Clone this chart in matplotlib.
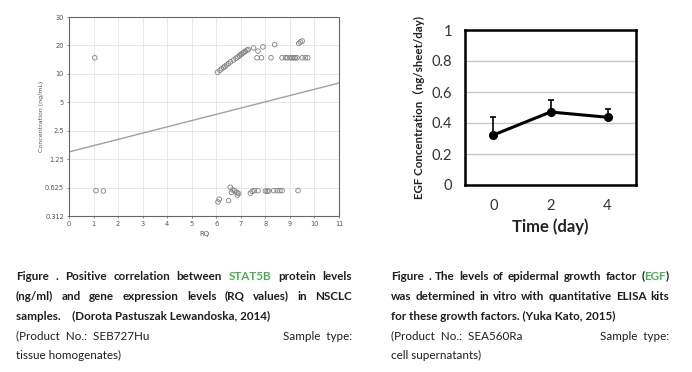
"""Recreate the two-panel product figure: STAT5B scatter and EGF time course with captions."""

import re

import matplotlib.pyplot as plt
import numpy as np


# --- left panel: STAT5B concentration vs RQ ---
RQ_VALUES = [
    1.05, 1.1, 1.4,
    6.05, 6.15, 6.22, 6.3, 6.35, 6.42, 6.5, 6.58, 6.7, 6.8, 6.88, 6.95, 7.0,
    7.05, 7.12, 7.18, 7.25, 7.3,
    7.52, 7.7, 7.9, 8.38, 9.36, 9.43, 9.5,
    7.66, 7.84, 8.23, 8.68, 8.82, 8.9, 9.02, 9.09, 9.16, 9.22, 9.29, 9.5, 9.63, 9.73,
    6.57, 6.67, 6.62, 6.75, 6.84, 6.91, 6.86, 7.39, 7.46, 7.55, 7.7, 8.0, 8.07,
    8.13, 8.34, 8.48, 8.59, 8.68, 9.33,
    6.12, 6.07, 6.5,
]
CONC_VALUES = [
    14.8, 0.58, 0.575,
    10.4, 10.9, 11.3, 11.7, 12.0, 12.4, 12.9, 13.4, 14.0, 14.6, 15.1, 15.6, 16.0,
    16.4, 16.9, 17.3, 17.8, 18.1,
    18.8, 17.4, 19.3, 20.4, 21.0, 21.8, 22.3,
    14.8, 14.8, 14.8, 14.8, 14.8, 14.8, 14.8, 14.8, 14.8, 14.8, 14.8, 14.8, 14.8, 14.8,
    0.63, 0.59, 0.555, 0.58, 0.555, 0.54, 0.52, 0.545, 0.57, 0.58, 0.58, 0.575, 0.57,
    0.575, 0.58, 0.58, 0.58, 0.58, 0.58,
    0.47, 0.44, 0.455,
]
FIT_RQ = [0, 11]
FIT_CONC = [1.49, 8.0]
RQ_TICKS = list(range(0, 12))
CONC_TICKS = [0.3125, 0.625, 1.25, 2.5, 5, 10, 20, 40]
CONC_TICK_LABELS = ["0.312", "0.625", "1.25", "2.5", "5", "10", "20", "30"]

# --- right panel: EGF concentration over time ---
DAYS = [0, 2, 4]
EGF_MEAN = [0.323, 0.471, 0.437]
EGF_ERR = [0.114, 0.075, 0.053]
EGF_TICKS = [0, 0.2, 0.4, 0.6, 0.8, 1]
EGF_TICK_LABELS = ["0", "0.2", "0.4", "0.6", "0.8", "1"]

# --- captions; [word] marks green text ---
LEFT_CAPTION = [
    ("Figure . Positive correlation between [STAT5B] protein levels", "justify", "bold"),
    ("(ng/ml) and gene expression levels (RQ values) in NSCLC", "justify", "bold"),
    ("samples.    (Dorota Pastuszak Lewandoska, 2014)", "left", "bold"),
    ("(Product  No.:  SEB727Hu|Sample  type:", "split", "normal"),
    ("tissue homogenates)", "left", "normal"),
]
RIGHT_CAPTION = [
    ("Figure . The levels of epidermal growth factor ([EGF])", "justify", "bold"),
    ("was determined in vitro with quantitative ELISA kits", "justify", "bold"),
    ("for these growth factors. (Yuka Kato, 2015)", "left", "bold"),
    ("(Product  No.:  SEA560Ra|Sample  type:", "split", "normal"),
    ("cell supernatants)", "left", "normal"),
]

W, H = 692, 372
GREEN = "#4caf50"
TEXT_COLOR = "#1e1e1e"
CAPTION_FONT = "Lato"
CAPTION_SIZE = 8.4
LINE_Y = [276, 296, 316, 336, 355]


def px(x, y):
    """Convert pixel coords (top-left origin) to figure fraction."""
    return x / W, 1 - y / H


def text_width(fig, renderer, s, weight):
    t = fig.text(0, 0, s, fontsize=CAPTION_SIZE, family=CAPTION_FONT, weight=weight)
    w = t.get_window_extent(renderer).width / fig.bbox.width
    t.remove()
    return w


def draw_word(fig, renderer, x, y, word, weight):
    """Draw one word (may contain [green] parts)."""
    parts = [p for p in re.split(r"(\[[^\]]+\])", word) if p]
    for part in parts:
        color = TEXT_COLOR
        if part.startswith("["):
            part = part[1:-1]
            color = GREEN
        t = fig.text(x, y, part, fontsize=CAPTION_SIZE, family=CAPTION_FONT,
                     weight=weight, color=color, va="center", ha="left")
        x += t.get_window_extent(renderer).width / fig.bbox.width


def draw_caption(fig, lines, x0_px, x1_px):
    renderer = fig.canvas.get_renderer()
    x0, _ = px(x0_px, 0)
    x1, _ = px(x1_px, 0)
    for (line, mode, weight), y_px in zip(lines, LINE_Y):
        _, y = px(0, y_px)
        if mode == "justify":
            words = line.split()
            widths = [text_width(fig, renderer, w.replace("[", "").replace("]", ""), weight)
                      for w in words]
            gap = (x1 - x0 - sum(widths)) / (len(words) - 1)
            x = x0
            for word, wd in zip(words, widths):
                draw_word(fig, renderer, x, y, word, weight)
                x += wd + gap
        elif mode == "split":
            left, right = line.split("|")
            fig.text(x0, y, left, fontsize=CAPTION_SIZE, family=CAPTION_FONT,
                     weight=weight, color=TEXT_COLOR, va="center", ha="left")
            fig.text(x1, y, right, fontsize=CAPTION_SIZE, family=CAPTION_FONT,
                     weight=weight, color=TEXT_COLOR, va="center", ha="right")
        else:
            fig.text(x0, y, line, fontsize=CAPTION_SIZE, family=CAPTION_FONT,
                     weight=weight, color=TEXT_COLOR, va="center", ha="left")


def plot_scatter(fig):
    ax = fig.add_axes([69 / W, 1 - 216 / H, 270 / W, 199 / H])
    ax.set_yscale("log", base=2)
    ax.scatter(RQ_VALUES, CONC_VALUES, s=11, facecolors="none", edgecolors="#808080",
               linewidths=0.6, zorder=3)
    ax.plot(FIT_RQ, FIT_CONC, color="#a0a0a0", lw=1.0, zorder=2)
    ax.set_xlim(0, 11)
    ax.set_ylim(CONC_TICKS[0], CONC_TICKS[-1])
    ax.set_xticks(RQ_TICKS)
    ax.set_yticks(CONC_TICKS)
    ax.set_yticklabels(CONC_TICK_LABELS)
    ax.yaxis.set_minor_locator(plt.NullLocator())
    ax.tick_params(labelsize=4.8, length=1.5, width=0.5, pad=2, colors="#555555")
    ax.grid(True, color="#e4e4e4", lw=0.6)
    ax.set_axisbelow(True)
    for spine in ax.spines.values():
        spine.set_color("#666666")
        spine.set_linewidth(0.8)
        spine.set_linestyle((0, (2, 1)))
    ax.set_xlabel("RQ", fontsize=5, color="#555555", labelpad=3)
    ax.set_ylabel("Concentration (ng/mL)", fontsize=4.5, color="#555555", labelpad=1)


def plot_egf(fig):
    ax = fig.add_axes([465 / W, 1 - 185 / H, 171 / W, 155 / H])
    ax.errorbar(DAYS, EGF_MEAN, yerr=[np.zeros(len(EGF_ERR)), EGF_ERR], color="black",
                lw=2.2, marker="o", markersize=5.5, capsize=2.5, elinewidth=1.2,
                capthick=1.2, zorder=3)
    ax.set_xlim(-1, 5)
    ax.set_ylim(0, 1)
    ax.set_xticks(DAYS)
    ax.set_yticks(EGF_TICKS)
    ax.set_yticklabels(EGF_TICK_LABELS)
    ax.tick_params(length=0, labelsize=10.5, pad=9, colors="#333333")
    ax.tick_params(axis="x", pad=10)
    for lab in ax.get_xticklabels() + ax.get_yticklabels():
        lab.set_family("Lato")
    ax.grid(axis="y", color="#c8c8c8", lw=1.0)
    ax.set_axisbelow(True)
    for spine in ax.spines.values():
        spine.set_color("black")
        spine.set_linewidth(1.8)
    ax.set_xlabel("Time (day)", fontsize=12, weight="bold", family="Lato",
                  color="#222222", labelpad=4)
    ax.set_ylabel("EGF Concentration（ng/sheet/day)", fontsize=8.3, weight="bold",
                  family=["Lato", "Noto Sans CJK JP"], color="#222222", labelpad=5)


def main() -> None:
    fig = plt.figure(figsize=(W / 100, H / 100), dpi=100)
    plot_scatter(fig)
    plot_egf(fig)
    draw_caption(fig, LEFT_CAPTION, 16, 352)
    draw_caption(fig, RIGHT_CAPTION, 391, 669)
    fig.savefig("out.png", dpi=100)
    plt.close(fig)


if __name__ == "__main__":
    main()
